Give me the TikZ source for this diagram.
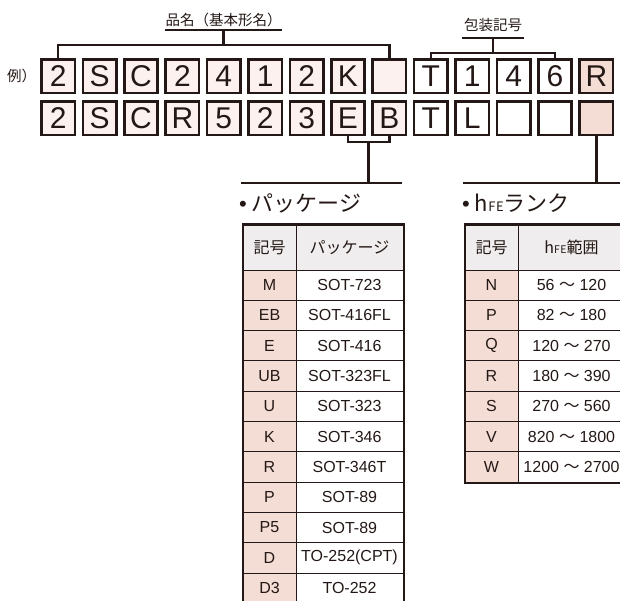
\documentclass[tikz,border=0pt]{standalone}
\usepackage{fontspec}
\setmainfont{Liberation Sans}
\newfontfamily\jp{Noto Sans CJK JP}
\usetikzlibrary{matrix, positioning, calc}
\definecolor{ink}{HTML}{231815}
\definecolor{blush}{HTML}{FDF1EF}
\definecolor{rose}{HTML}{F4DDD5}
\definecolor{mist}{HTML}{EFEDED}

\begin{document}
\begin{tikzpicture}[
  x=1pt, y=-1pt,
  every node/.style={text=ink},
  bracket/.style={draw=ink, line width=2.5pt},
  codebox/.style={
    draw=ink,
    line width=2.6pt,
    minimum size=33.4pt,
    inner sep=0pt,
    anchor=center,
    fill=blush,
    font=\fontsize{30}{30}\selectfont
  },
  cell/.style={
    draw=ink,
    line width=1pt,
    minimum height=30.3pt,
    inner sep=0pt,
    anchor=center,
    font=\fontsize{16}{18}\selectfont
  },
  sheet/.style={
    matrix of nodes,
    matrix anchor=north west,
    draw=ink,
    line width=2pt,
    inner sep=0pt,
    column sep=-1pt,
    row sep=-1pt,
    nodes={cell},
    column 1/.style={nodes={minimum width=53pt, fill=rose}},
    column 2/.style={nodes={minimum width=107pt, fill=white}},
    row 1/.style={nodes={minimum height=45pt, fill=mist}}
  },
  label/.style={font=\jp\fontsize{14.5}{15}\selectfont, inner sep=0pt},
  heading/.style={font=\fontsize{22}{22}\selectfont, inner sep=0pt, anchor=west}
]
\useasboundingbox (0,0) rectangle (620,601);

% code boxes
\matrix(code)[
  matrix of nodes,
  nodes in empty cells,
  matrix anchor=north west,
  inner sep=0pt,
  column sep=5.4pt,
  row sep=6pt,
  nodes={codebox},
  column 10/.style={nodes={fill=white}},
  column 11/.style={nodes={fill=white}},
  column 12/.style={nodes={fill=white}},
  column 13/.style={nodes={fill=white}},
  column 14/.style={nodes={fill=rose}}
] at (40,58) {
  2 & S & C & 2 & 4 & 1 & 2 & K & & T & 1 & 4 & 6 & R \\
  2 & S & C & R & 5 & 2 & 3 & E & B & T & L & & & \\
};

\node (example) [label, anchor=west] at (7,76) {例）};

% titles and brackets above
\node (basename) [label, minimum width=117pt] at (223.5,20) {品名（基本形名）};
\node (packname) [label, minimum width=62pt] at (493,25) {包装記号};

\coordinate (basejoin) at (basename |- 0,45);
\coordinate (packjoin) at (packname |- 0,53);
\draw[bracket] (basename.west |- 0,30) -- (basename.east |- 0,30);
\draw[bracket] (basename |- 0,30) -- (basejoin);
\draw[bracket] (code-1-1.north) |- (basejoin) -| (code-1-9.north);
\draw[bracket] (packname.west |- 0,38) -- (packname.east |- 0,38);
\draw[bracket] (packname |- 0,38) -- (packjoin);
\draw[bracket] (code-1-10.north) |- (packjoin) -| (code-1-13.north);

% brackets below
\coordinate (ebjoin) at ($(code-2-8.south)!0.5!(code-2-9.south) + (0,6)$);
\coordinate (pkgrule-w) at (241,183);
\coordinate (pkgrule-e) at (402,183);
\coordinate (rankrule-w) at (463,183);
\coordinate (rankrule-e) at (626,183);
\draw[bracket] (code-2-8.south) |- (ebjoin) -| (code-2-9.south);
\draw[bracket] (ebjoin) -- (ebjoin |- pkgrule-w);
\draw[bracket] (pkgrule-w) -- (pkgrule-e);
\draw[bracket] (code-2-14.south) -- (code-2-14.south |- rankrule-w);
\draw[bracket] (rankrule-w) -- (rankrule-e);

\node (pkgtitle) [heading] at (239,203) {•\hspace{5pt}{\jp パッケージ}};
\node (ranktitle) [heading] at (462,203) {•\hspace{5pt}{\jp h{\fontsize{13}{13}\selectfont F\kern0.6pt E}ランク}};

% tables
\matrix(pkgtable)[sheet] at (241.5,223.5) {
  {\jp 記号} & {\jp パッケージ} \\
  M  & SOT-723 \\
  EB & SOT-416FL \\
  E  & SOT-416 \\
  UB & SOT-323FL \\
  U  & SOT-323 \\
  K  & SOT-346 \\
  R  & SOT-346T \\
  P  & SOT-89 \\
  P5 & SOT-89 \\
  D  & TO-252(CPT) \\
  D3 & TO-252 \\
};

\matrix(ranktable)[sheet] at (463.5,223.5) {
  {\jp 記号} & {\jp h{\fontsize{10.5}{10.5}\selectfont F\kern0.4pt E}範囲} \\
  N & 56 {\jp ～} 120 \\
  P & 82 {\jp ～} 180 \\
  Q & 120 {\jp ～} 270 \\
  R & 180 {\jp ～} 390 \\
  S & 270 {\jp ～} 560 \\
  V & 820 {\jp ～} 1800 \\
  W & 1200 {\jp ～} 2700 \\
};

\end{tikzpicture}
\end{document}
